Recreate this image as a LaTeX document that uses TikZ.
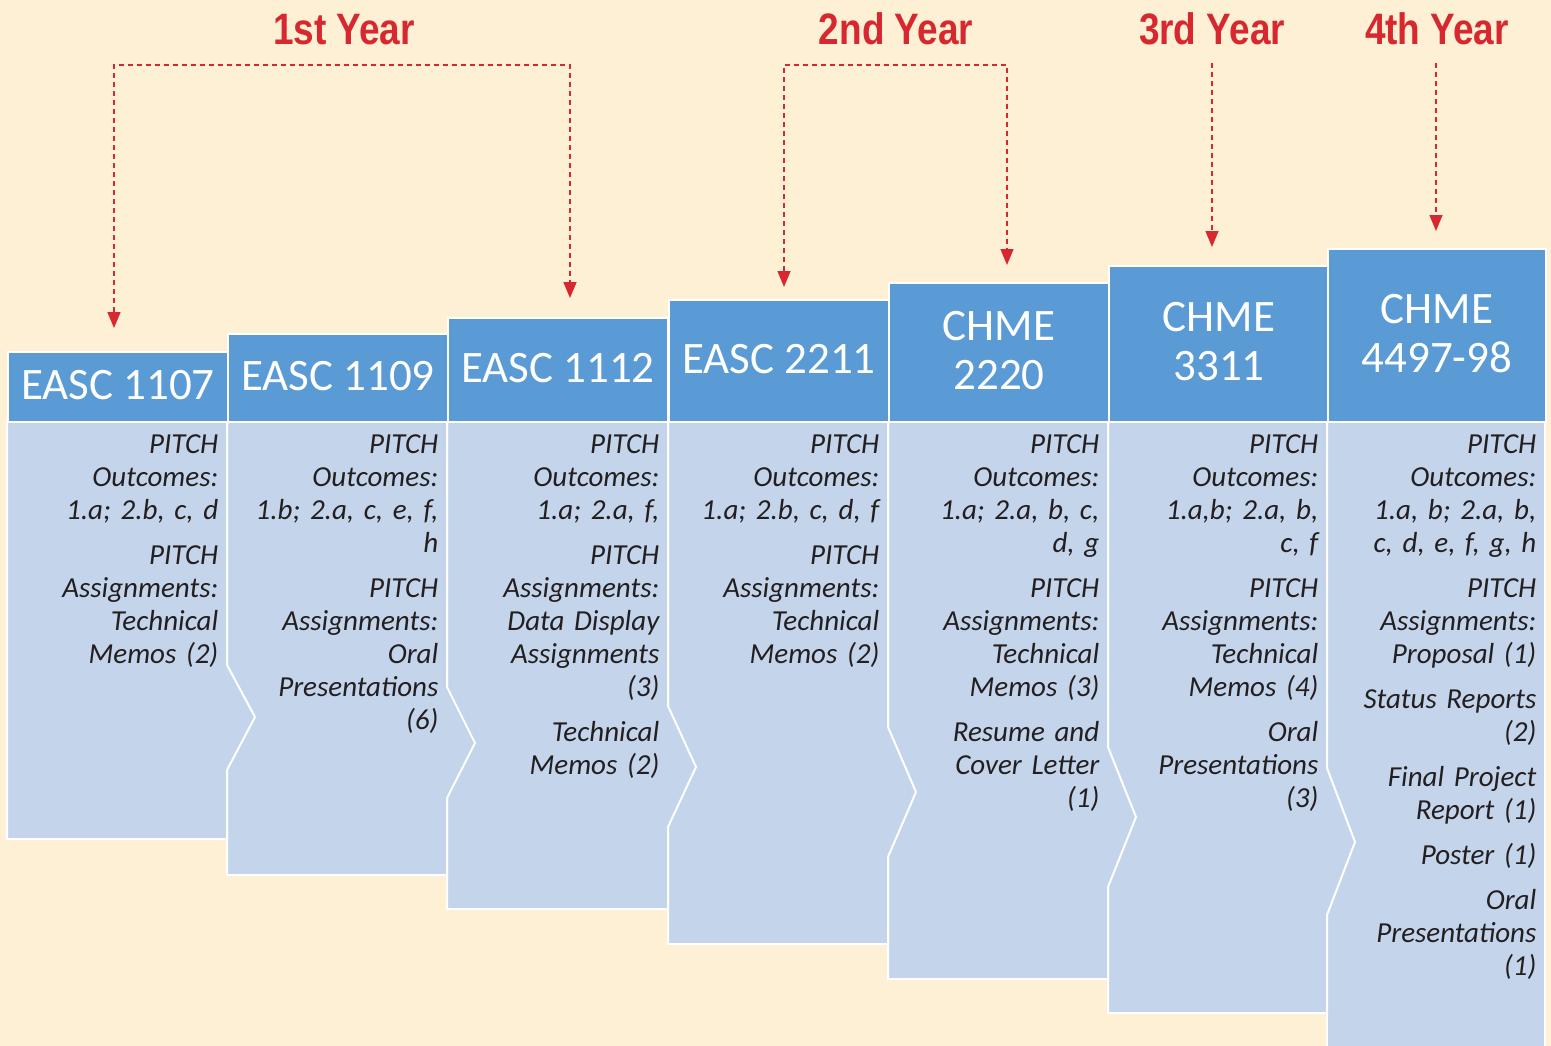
\documentclass[tikz,border=0pt]{standalone}
\usepackage{fontspec}
\setmainfont{Carlito}
\newfontfamily\yearfont[FakeStretch=0.84]{Liberation Sans}
\usetikzlibrary{arrows.meta}
\definecolor{cream}{HTML}{FEF0D5}
\definecolor{hdrblue}{HTML}{5B9BD5}
\definecolor{bodyblue}{HTML}{C4D4EA}
\definecolor{yearred}{HTML}{D7282F}
\definecolor{inkgray}{HTML}{231F20}
\newcommand\colbody[6]{\path[bodyshape] (#1,421) -- (#2,421) -- (#2,#4) -- ({#2+28},#5) -- (#2,#6) -- (#2,#3) -- (#1,#3) -- cycle;}
\begin{document}
\begin{tikzpicture}[x=1pt,y=-1pt,
  bodyshape/.style={fill=bodyblue,draw=white,line width=2pt,line join=miter},
  header/.style={fill=hdrblue,draw=white,line width=2pt,inner sep=0pt,anchor=north west,minimum width=220pt,text=white,font=\fontsize{45}{49}\selectfont,align=center,text depth=5pt},
  bodytext/.style={anchor=north east,inner sep=0pt,text width=212pt,align=right,text=inkgray,font=\fontsize{29}{33}\selectfont\itshape},
  yearlabel/.style={text=yearred,font=\yearfont\bfseries\fontsize{44}{48}\selectfont,anchor=base,inner sep=0pt},
  yearline/.style={draw=yearred,line width=1.5pt,dash pattern=on 5pt off 4pt},
  onetip/.style={-{Triangle[width=13pt,length=16pt]}},
  twotips/.style={{Triangle[width=13pt,length=16pt]}-{Triangle[width=13pt,length=16pt]}}]
\path[use as bounding box,fill=cream] (0,0) rectangle (1551,1046);

% bodies, drawn right to left so that each notch lies over the next column
\path[bodyshape] (1327,421) -- (1545,421) -- (1545,1052) -- (1327,1052) -- cycle;
\colbody{1108}{1327}{1013}{768}{842}{915}
\colbody{888}{1108}{979}{747}{817}{887}
\colbody{668}{888}{944}{727}{792}{857}
\colbody{447}{668}{909}{706}{767}{827}
\colbody{227}{447}{875}{687}{743}{798}
\colbody{7}{227}{839}{665}{717}{770}

% headers
\node[header,minimum height=70pt] (h1) at (7,351) {EASC 1107};
\node[header,minimum height=88pt] (h2) at (227,333) {EASC 1109};
\node[header,minimum height=104pt] (h3) at (447,317) {EASC 1112};
\node[header,minimum height=122pt] (h4) at (668,299) {EASC 2211};
\node[header,minimum height=139pt] (h5) at (888,282) {CHME\\2220};
\node[header,minimum height=156pt] (h6) at (1108,265) {CHME\\3311};
\node[header,minimum height=173pt,minimum width=218pt] (h7) at (1327,248) {CHME\\4497-98};

% body texts
\node[bodytext] (t1) at (218.5,434.5) {PITCH\\Outcomes:\\1.a; 2.b, c, d\\[12pt]PITCH\\Assignments:\\Technical\\Memos (2)};
\node[bodytext] (t2) at (438.5,434.5) {PITCH\\Outcomes:\\1.b; 2.a, c, e, f,\\h\\[12pt]PITCH\\Assignments:\\Oral\\Presentations\\(6)};
\node[bodytext] (t3) at (659.5,434.5) {PITCH\\Outcomes:\\1.a; 2.a, f,\\[12pt]PITCH\\Assignments:\\Data Display\\Assignments\\(3)\\[12pt]Technical\\Memos (2)};
\node[bodytext] (t4) at (879.5,434.5) {PITCH\\Outcomes:\\1.a; 2.b, c, d, f\\[12pt]PITCH\\Assignments:\\Technical\\Memos (2)};
\node[bodytext] (t5) at (1099.5,434.5) {PITCH\\Outcomes:\\1.a; 2.a, b, c,\\d, g\\[12pt]PITCH\\Assignments:\\Technical\\Memos (3)\\[12pt]Resume and\\Cover Letter\\(1)};
\node[bodytext] (t6) at (1318.5,434.5) {PITCH\\Outcomes:\\1.a,b; 2.a, b,\\c, f\\[12pt]PITCH\\Assignments:\\Technical\\Memos (4)\\[12pt]Oral\\Presentations\\(3)};
\node[bodytext] (t7) at (1536.5,434.5) {PITCH\\Outcomes:\\1.a, b; 2.a, b,\\c, d, e, f, g, h\\[12pt]PITCH\\Assignments:\\Proposal (1)\\[12pt]Status Reports\\(2)\\[12pt]Final Project\\Report (1)\\[12pt]Poster (1)\\[12pt]Oral\\Presentations\\(1)};

% year labels
\node[yearlabel] (y1) at (344,45) {1st Year};
\node[yearlabel] (y2) at (896,45) {2nd Year};
\node[yearlabel] (y3) at (1212,45) {3rd Year};
\node[yearlabel] (y4) at (1437,45) {4th Year};

% year connectors
\coordinate (b1l) at (114,65);
\coordinate (b1r) at (570,65);
\coordinate (a1) at (114,328);
\coordinate (a3) at (570,298);
\draw[yearline,twotips] (a1) -- (b1l) -- (b1r) -- (a3);
\coordinate (b2l) at (784,65);
\coordinate (b2r) at (1007,65);
\coordinate (a4) at (784,287);
\coordinate (a5) at (1007,265);
\draw[yearline,twotips] (a4) -- (b2l) -- (b2r) -- (a5);
\coordinate (b3) at (1212,63);
\coordinate (a6) at (1212,247);
\draw[yearline,onetip] (b3) -- (a6);
\coordinate (b4) at (1436,63);
\coordinate (a7) at (1436,231);
\draw[yearline,onetip] (b4) -- (a7);
\end{tikzpicture}
\end{document}
